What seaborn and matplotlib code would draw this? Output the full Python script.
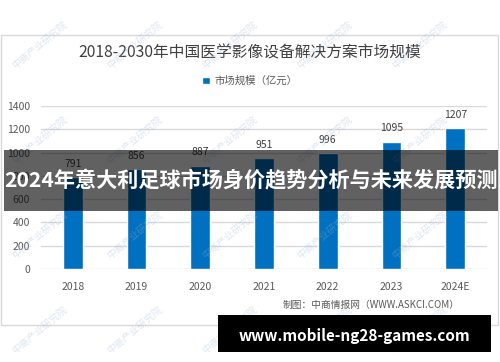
import matplotlib
matplotlib.use('Agg')
import matplotlib.pyplot as plt
import seaborn as sns
import pandas as pd
from matplotlib.patches import Rectangle

# data
years = ['2018', '2019', '2020', '2021', '2022', '2023', '2024E']
market = [791, 856, 887, 951, 996, 1095, 1207]
y_ticks = [0, 200, 400, 600, 800, 1000, 1200, 1400]

title = '2018-2030年中国医学影像设备解决方案市场规模'
legend_label = '市场规模（亿元）'
source = '制图：中商情报网（WWW.ASKCI.COM）'
banner = '2024年意大利足球市场身价趋势分析与未来发展预测'
site = 'www.mobile-ng28-games.com'
watermark = '中商产业研究院'

sns.set_style('white')
plt.rcParams['font.family'] = ['Noto Sans CJK SC', 'DejaVu Sans']

df = pd.DataFrame({'year': years, 'value': market})

W, H = 500, 362
fig = plt.figure(figsize=(5, 3.62), dpi=100)

def fx(px):
    return px / W

def fy(py):
    return 1 - py / H

# outer chart frame
fig.patches.append(Rectangle((fx(1), fy(325)), fx(497), 290 / H, transform=fig.transFigure,
                             fill=False, edgecolor='#d9d9d9', linewidth=1, zorder=0))

ax = fig.add_axes([fx(41), fy(269), fx(446), 163 / H])
sns.barplot(data=df, x='year', y='value', color='#0070C0', width=0.31, saturation=1,
            label=legend_label, ax=ax, zorder=3)
ax.set_xlim(-0.5, len(years) - 0.5)
ax.set_ylim(0, 1400)
ax.set_yticks(y_ticks)
ax.yaxis.grid(True, color='#d9d9d9', linewidth=1, zorder=0)
ax.set_axisbelow(True)
for s in ax.spines.values():
    s.set_visible(False)
ax.set_xlabel('')
ax.set_ylabel('')
ax.tick_params(axis='both', length=0, labelsize=7.5, colors='#595959')
ax.tick_params(axis='x', pad=9)
ax.tick_params(axis='y', pad=8)
for i, v in enumerate(market):
    ax.annotate(str(v), (i, v), xytext=(0, 6), textcoords='offset points',
                ha='center', va='bottom', fontsize=7.5, color='#404040')
leg = ax.legend(loc='center', bbox_to_anchor=(0.5, fy(81)), bbox_transform=fig.transFigure,
                frameon=False, fontsize=7.5, handlelength=0.7, handleheight=0.7,
                handletextpad=0.5)
for t in leg.get_texts():
    t.set_color('#595959')

fig.text(0.5, fy(53), title, ha='center', va='center', fontsize=11.3, color='#404040')
fig.text(fx(460), fy(305), source, ha='right', va='center', fontsize=7, color='#595959')

# faint tiled watermarks
for wy in range(45, 340, 95):
    for wx in range(40, 470, 95):
        fig.text(fx(wx), fy(wy), watermark, ha='center', va='center', rotation=40,
                 fontsize=7, color='#9bb7d4', alpha=0.35, zorder=5)

# overlay banners
fig.patches.append(Rectangle((fx(4), fy(211)), fx(494), 61 / H, transform=fig.transFigure,
                             facecolor='black', alpha=0.62, edgecolor='none', zorder=10))
fig.text(fx(251), fy(181), banner, ha='center', va='center', fontsize=15.2,
         fontweight='bold', color='white', zorder=11)
fig.patches.append(Rectangle((fx(218), fy(352)), fx(273), 37 / H, transform=fig.transFigure,
                             facecolor='black', edgecolor='none', zorder=10))
fig.text(fx(354), fy(336), site, ha='center', va='center', fontsize=11,
         fontweight='bold', color='white', zorder=11)

fig.savefig('out.png', dpi=100)
